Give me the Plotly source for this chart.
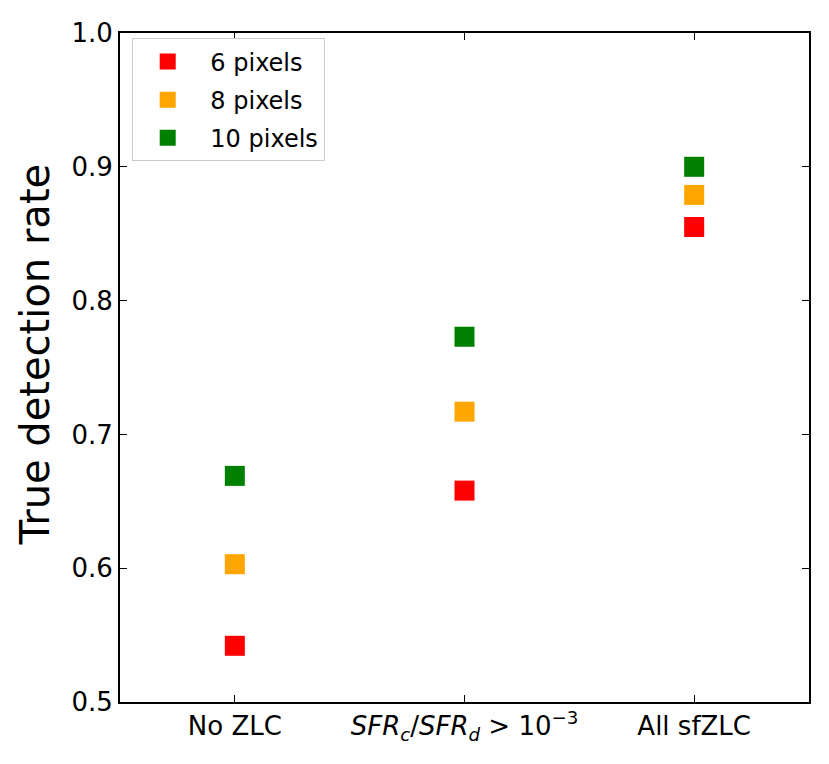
import plotly.graph_objects as go

categories = ["No ZLC",
              "<i>SFR</i><sub><i>c</i></sub>/<i>SFR</i><sub><i>d</i></sub> > 10<sup>\u22123</sup>",
              "All sfZLC"]
pix6 = [0.542, 0.658, 0.855]
pix8 = [0.603, 0.717, 0.879]
pix10 = [0.669, 0.773, 0.900]
series_names = ["6 pixels", "8 pixels", "10 pixels"]
colors = ["red", "orange", "green"]

font = "DejaVu Sans"
fig = go.Figure()
x = list(range(len(categories)))
for i, (name, vals) in enumerate(zip(series_names, [pix6, pix8, pix10])):
    fig.add_trace(go.Scatter(
        x=x, y=vals, mode="markers", name="\u00a0" + name, legendgroup=name,
        marker=dict(symbol="square", size=20, color=colors[i], line=dict(width=0)),
    ))

fig.update_xaxes(
    range=[-0.5, 2.5], tickmode="array", tickvals=x, ticktext=categories,
    ticks="inside", ticklen=7, tickwidth=1.3, tickcolor="black",
    showline=True, linecolor="black", linewidth=1.8, mirror="ticks",
    showgrid=False, zeroline=False,
    tickfont=dict(family=font, size=26, color="black"),
)
fig.update_yaxes(
    range=[0.5, 1.0], dtick=0.1, tickformat=".1f",
    ticks="inside", ticklen=7, tickwidth=1.3, tickcolor="black",
    showline=True, linecolor="black", linewidth=1.8, mirror="ticks",
    showgrid=False, zeroline=False,
    tickfont=dict(family=font, size=26, color="black"),
)
# y title as annotation so it can sit slightly above centre like the original
fig.add_annotation(text="True detection rate", textangle=-90,
                   xref="paper", yref="paper", x=-0.123, y=0.52,
                   xanchor="center", yanchor="middle", showarrow=False,
                   font=dict(family=font, size=40, color="black"))
# page body has an 8px margin, so the figure is sized to fit inside it
fig.update_layout(
    width=813, height=748,
    margin=dict(l=112, r=10, t=21, b=54),
    plot_bgcolor="white", paper_bgcolor="white",
    legend=dict(x=0.017, y=0.992, xanchor="left", yanchor="top",
                bordercolor="#cccccc", borderwidth=1, bgcolor="white",
                font=dict(family=font, size=24, color="black"),
                itemwidth=60,
                traceorder="grouped", tracegroupgap=4),
)
fig.write_html("out.html")
